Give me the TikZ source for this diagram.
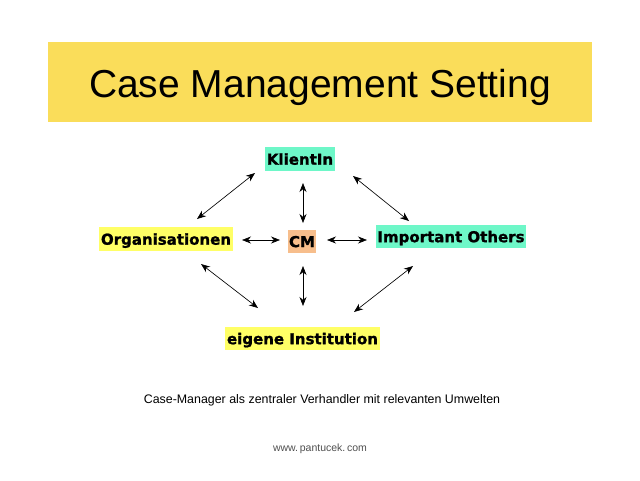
\documentclass[tikz,border=0pt]{standalone}
\usepackage{fontspec}
\setmainfont{Liberation Sans}
\newfontface\boxfont[FakeBold=1.2]{DejaVu Sans Bold}
\usetikzlibrary{arrows.meta}
\definecolor{banner}{RGB}{250,221,90}
\definecolor{ylw}{RGB}{255,255,102}
\definecolor{aqua}{RGB}{110,247,200}
\definecolor{peach}{RGB}{247,190,140}
\definecolor{urlgray}{RGB}{80,80,80}
\tikzset{
  lbl/.style={inner sep=0pt, font=\boxfont\fontsize{15}{15}\selectfont, minimum height=23.5pt, text depth=0pt},
  link/.style={line width=0.65pt, {Stealth[length=9pt,width=7pt]}-{Stealth[length=9pt,width=7pt]}}
}
\begin{document}
\begin{tikzpicture}[x=1pt,y=-1pt]
\useasboundingbox (0,0) rectangle (640,480);
\fill[white] (0,0) rectangle (640,480);
\fill[banner] (48,42) rectangle (592,122);
\node[inner sep=0pt, anchor=base, font=\fontsize{39}{39}\selectfont] (title) at (320,97) {Case Management Setting};

\node[lbl, fill=aqua, minimum width=70pt] (kl) at (300,159) {KlientIn};
\node[lbl, fill=ylw, minimum width=134pt] (org) at (166,239) {Organisationen};
\node[lbl, fill=peach, minimum width=28pt] (cm) at (302,241.5) {CM};
\node[lbl, fill=aqua, minimum width=150pt] (imp) at (451,236.5) {Important Others};
\node[lbl, fill=ylw, minimum width=155pt] (eig) at (302.5,338.5) {eigene Institution};

\coordinate (a1) at (255,173); \coordinate (a2) at (197,219);
\coordinate (b1) at (353,176); \coordinate (b2) at (409,221);
\coordinate (c1) at (303,183); \coordinate (c2) at (303,223);
\coordinate (d1) at (242,240); \coordinate (d2) at (280,240);
\coordinate (e1) at (327,240); \coordinate (e2) at (367,240);
\coordinate (f1) at (303,266); \coordinate (f2) at (303,306);
\coordinate (g1) at (201,264); \coordinate (g2) at (258,308);
\coordinate (h1) at (413,266); \coordinate (h2) at (354,312);

\draw[link] (a1) -- (a2);
\draw[link] (b1) -- (b2);
\draw[link] (c1) -- (c2);
\draw[link] (d1) -- (d2);
\draw[link] (e1) -- (e2);
\draw[link] (f1) -- (f2);
\draw[link] (g1) -- (g2);
\draw[link] (h1) -- (h2);

\node[inner sep=0pt, anchor=base, font=\fontsize{12.4}{12.4}\selectfont] (cap) at (322,403.5) {Case-Manager als zentraler Verhandler mit relevanten Umwelten};
\node[inner sep=0pt, anchor=base, text=urlgray, font=\fontsize{10.5}{10.5}\selectfont] (url) at (320,451) {www.\,pantucek.\,com};
\end{tikzpicture}
\end{document}
